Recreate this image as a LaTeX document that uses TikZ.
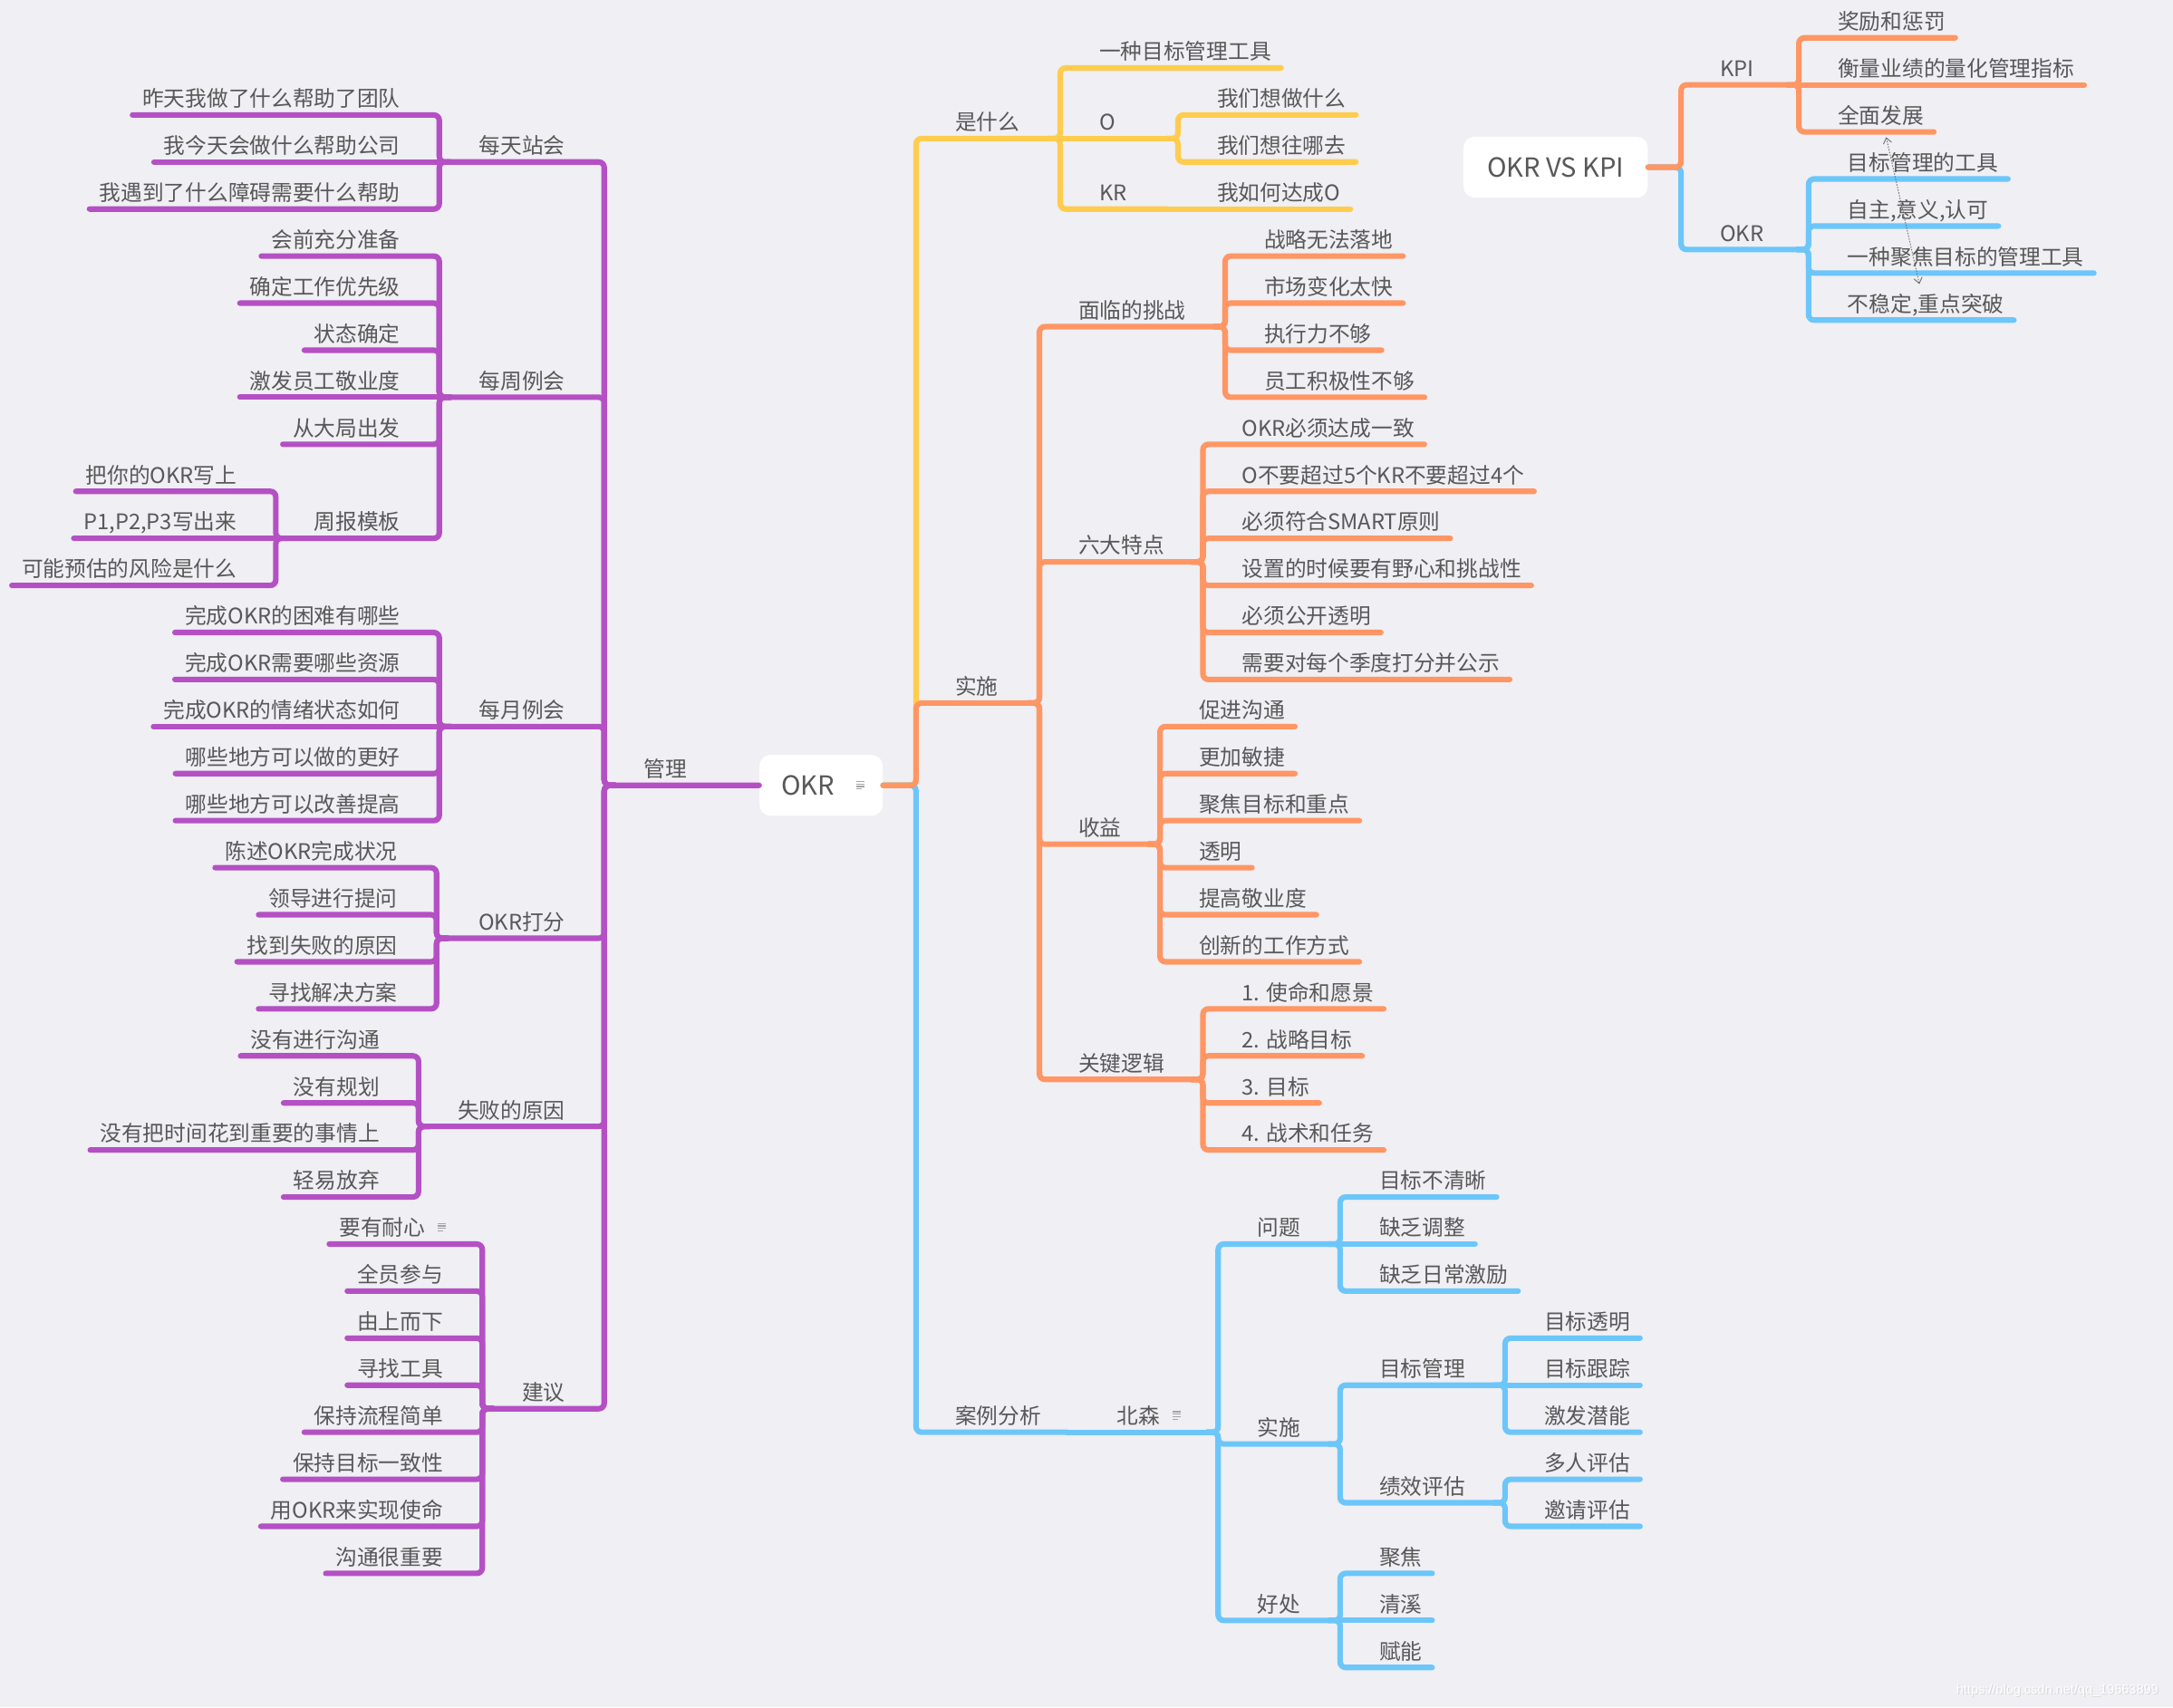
\documentclass[tikz,border=0pt]{standalone}
\usepackage{fontspec}
\setmainfont{Noto Sans CJK SC}
\newfontfamily\wmfamily{Liberation Sans}
\usetikzlibrary{calc,arrows.meta}
\definecolor{mmbg}{RGB}{239,239,244}
\definecolor{mmtxt}{RGB}{88,88,88}
\definecolor{mmpur}{RGB}{180,80,196}
\definecolor{mmora}{RGB}{255,150,100}
\definecolor{mmyel}{RGB}{255,204,77}
\definecolor{mmblu}{RGB}{108,198,250}
\definecolor{mmicon}{RGB}{165,165,165}
\definecolor{mmrel}{RGB}{110,110,110}
\newcommand\mmfont{\fontsize{15.5}{18}\selectfont}
\newcommand\mmrootfont{\fontsize{19}{22}\selectfont}
\def\RB{49}
% connector: [flag i = inline] color, from, trunk x, to   (uses \yy)
\newcommand\mmlink[5]{\if#1i\draw[br,#2] (#3) -- (#5);\else\draw[br,#2] (#3) -| (#4,\yy) -- (#5);\fi}
% right intermediate: [flag] color parent trunk name row nexttrunk text
\newcommand\rmid[8][n]{%
  \pgfmathsetmacro\yy{\RB+33.95*(#6)}%
  \node[lbl,anchor=base west] (#5) at (#4+28,\yy-6) {#8};
  \coordinate (#5-e) at (#7-8,\yy);
  \mmlink{#1}{#2}{#3}{#4}{#5-e}}
% right leaf: [flag] color parent trunk name row text
\newcommand\rleaf[7][n]{%
  \pgfmathsetmacro\yy{\RB+33.95*(#6)}%
  \node[lbl,anchor=base west] (#5) at (#4+28,\yy-6) {#7};
  \coordinate (#5-e) at ($(#5.base east)+(7,6)$);
  \mmlink{#1}{#2}{#3}{#4}{#5-e}}
% left intermediate
\newcommand\lmid[8][n]{%
  \pgfmathsetmacro\yy{\RB+33.95*(#6)}%
  \node[lbl,anchor=base east] (#5) at (#4-28,\yy-6) {#8};
  \coordinate (#5-e) at (#7+8,\yy);
  \mmlink{#1}{#2}{#3}{#4}{#5-e}}
% left leaf
\newcommand\lleaf[7][n]{%
  \pgfmathsetmacro\yy{\RB+33.95*(#6)}%
  \node[lbl,anchor=base east] (#5) at (#4-28,\yy-6) {#7};
  \coordinate (#5-e) at ($(#5.base west)+(-7,6)$);
  \mmlink{#1}{#2}{#3}{#4}{#5-e}}
\tikzset{
  br/.style={line width=4pt, line cap=round, rounded corners=4pt},
  lbl/.style={font=\mmfont, text=mmtxt, inner sep=0pt},
  rootbox/.style={fill=white, rounded corners=8pt, minimum width=89pt, minimum height=44pt,
    font=\mmrootfont, text=mmtxt, inner sep=0pt},
  relarrow/.style={draw=mmrel, line width=0.6pt, dash pattern=on 1pt off 1pt,
    {Straight Barb[length=4pt,width=6pt]}-{Straight Barb[length=4pt,width=6pt]}},
  noteicon/.pic={
    \fill[mmicon] (-3,-3.2) rectangle (3,-2.4);
    \fill[mmicon] (-3,-1.4) rectangle (3,-0.6);
    \fill[mmicon] (-3,0.4) rectangle (3,1.2);
    \fill[mmicon] (-3,2.2) rectangle (1,3.0);
  }
}
\begin{document}
\begin{tikzpicture}[x=1pt,y=-1pt]
\fill[mmbg] (0,0) rectangle (1568,1232);
\useasboundingbox (0,0) rectangle (1568,1232);

% ---------- central OKR ----------
\node[rootbox] (okr) at (592.5,566.74) {OKR\rule{19pt}{0pt}};
\pic (okricon) at (621,566.74) {noteicon};
\coordinate (okr-r) at (okr.east);
\coordinate (okr-l) at (okr.west);

% ---------- yellow: 是什么 ----------
\rmid{mmyel}{okr-r}{661}{sxm}{1.5}{765}{是什么}
\rleaf{mmyel}{sxm-e}{765}{y1}{0}{一种目标管理工具}
\rmid[i]{mmyel}{sxm-e}{765}{yo}{1.5}{850}{O}
\rleaf{mmyel}{yo-e}{850}{y2}{1}{我们想做什么}
\rleaf{mmyel}{yo-e}{850}{y3}{2}{我们想往哪去}
\rmid{mmyel}{sxm-e}{765}{ykr}{3}{850}{KR}
\rleaf[i]{mmyel}{ykr-e}{850}{y4}{3}{我如何达成O}

% ---------- blue: 案例分析 ----------
\rmid{mmblu}{okr-r}{661}{al}{29}{778}{案例分析}
\rmid[i]{mmblu}{al-e}{778}{bs}{29}{879}{北森}
\pic (bsicon) at (849,1021.5) {noteicon};
\rmid{mmblu}{bs-e}{879}{wt}{25}{967}{问题}
\rleaf{mmblu}{wt-e}{967}{w1}{24}{目标不清晰}
\rleaf[i]{mmblu}{wt-e}{967}{w2}{25}{缺乏调整}
\rleaf{mmblu}{wt-e}{967}{w3}{26}{缺乏日常激励}
\rmid{mmblu}{bs-e}{879}{cs}{29.25}{967}{实施}
\rmid{mmblu}{cs-e}{967}{mb}{28}{1086}{目标管理}
\rleaf{mmblu}{mb-e}{1086}{mb1}{27}{目标透明}
\rleaf[i]{mmblu}{mb-e}{1086}{mb2}{28}{目标跟踪}
\rleaf{mmblu}{mb-e}{1086}{mb3}{29}{激发潜能}
\rmid{mmblu}{cs-e}{967}{jx}{30.5}{1086}{绩效评估}
\rleaf{mmblu}{jx-e}{1086}{jx1}{30}{多人评估}
\rleaf{mmblu}{jx-e}{1086}{jx2}{31}{邀请评估}
\rmid{mmblu}{bs-e}{879}{hc}{33}{967}{好处}
\rleaf{mmblu}{hc-e}{967}{h1}{32}{聚焦}
\rleaf[i]{mmblu}{hc-e}{967}{h2}{33}{清溪}
\rleaf{mmblu}{hc-e}{967}{h3}{34}{赋能}

% ---------- orange: 实施 ----------
\rmid{mmora}{okr-r}{661}{ss}{13.5}{750}{实施}
\rmid{mmora}{ss-e}{750}{mlt}{5.5}{884}{面临的挑战}
\rleaf{mmora}{mlt-e}{884}{m1}{4}{战略无法落地}
\rleaf{mmora}{mlt-e}{884}{m2}{5}{市场变化太快}
\rleaf{mmora}{mlt-e}{884}{m3}{6}{执行力不够}
\rleaf{mmora}{mlt-e}{884}{m4}{7}{员工积极性不够}
\rmid{mmora}{ss-e}{750}{ld}{10.5}{868}{六大特点}
\rleaf{mmora}{ld-e}{868}{l1}{8}{OKR必须达成一致}
\rleaf{mmora}{ld-e}{868}{l2}{9}{O不要超过5个KR不要超过4个}
\rleaf{mmora}{ld-e}{868}{l3}{10}{必须符合SMART原则}
\rleaf{mmora}{ld-e}{868}{l4}{11}{设置的时候要有野心和挑战性}
\rleaf{mmora}{ld-e}{868}{l5}{12}{必须公开透明}
\rleaf{mmora}{ld-e}{868}{l6}{13}{需要对每个季度打分并公示}
\rmid{mmora}{ss-e}{750}{sy}{16.5}{837}{收益}
\rleaf{mmora}{sy-e}{837}{s1}{14}{促进沟通}
\rleaf{mmora}{sy-e}{837}{s2}{15}{更加敏捷}
\rleaf{mmora}{sy-e}{837}{s3}{16}{聚焦目标和重点}
\rleaf{mmora}{sy-e}{837}{s4}{17}{透明}
\rleaf{mmora}{sy-e}{837}{s5}{18}{提高敬业度}
\rleaf{mmora}{sy-e}{837}{s6}{19}{创新的工作方式}
\rmid{mmora}{ss-e}{750}{gj}{21.5}{868}{关键逻辑}
\rleaf{mmora}{gj-e}{868}{g1}{20}{1. 使命和愿景}
\rleaf{mmora}{gj-e}{868}{g2}{21}{2. 战略目标}
\rleaf{mmora}{gj-e}{868}{g3}{22}{3. 目标}
\rleaf{mmora}{gj-e}{868}{g4}{23}{4. 战术和任务}

% ---------- purple: 管理 ----------
\lmid[i]{mmpur}{okr-l}{524}{gl}{15.25}{436}{管理}
\lmid{mmpur}{gl-e}{436}{mt}{2}{317}{每天站会}
\lleaf{mmpur}{mt-e}{317}{a1}{1}{昨天我做了什么帮助了团队}
\lleaf[i]{mmpur}{mt-e}{317}{a2}{2}{我今天会做什么帮助公司}
\lleaf{mmpur}{mt-e}{317}{a3}{3}{我遇到了什么障碍需要什么帮助}
\lmid{mmpur}{gl-e}{436}{mz}{7}{317}{每周例会}
\lleaf{mmpur}{mz-e}{317}{b1}{4}{会前充分准备}
\lleaf{mmpur}{mz-e}{317}{b2}{5}{确定工作优先级}
\lleaf{mmpur}{mz-e}{317}{b3}{6}{状态确定}
\lleaf[i]{mmpur}{mz-e}{317}{b4}{7}{激发员工敬业度}
\lleaf{mmpur}{mz-e}{317}{b5}{8}{从大局出发}
\lmid{mmpur}{mz-e}{317}{zb}{10}{199}{周报模板}
\lleaf{mmpur}{zb-e}{199}{c1}{9}{把你的OKR写上}
\lleaf[i]{mmpur}{zb-e}{199}{c2}{10}{P1,P2,P3写出来}
\lleaf{mmpur}{zb-e}{199}{c3}{11}{可能预估的风险是什么}
\lmid{mmpur}{gl-e}{436}{my}{14}{317}{每月例会}
\lleaf{mmpur}{my-e}{317}{e1}{12}{完成OKR的困难有哪些}
\lleaf{mmpur}{my-e}{317}{e2}{13}{完成OKR需要哪些资源}
\lleaf[i]{mmpur}{my-e}{317}{e3}{14}{完成OKR的情绪状态如何}
\lleaf{mmpur}{my-e}{317}{e4}{15}{哪些地方可以做的更好}
\lleaf{mmpur}{my-e}{317}{e5}{16}{哪些地方可以改善提高}
\lmid{mmpur}{gl-e}{436}{df}{18.5}{315}{OKR打分}
\lleaf{mmpur}{df-e}{315}{f1}{17}{陈述OKR完成状况}
\lleaf{mmpur}{df-e}{315}{f2}{18}{领导进行提问}
\lleaf{mmpur}{df-e}{315}{f3}{19}{找到失败的原因}
\lleaf{mmpur}{df-e}{315}{f4}{20}{寻找解决方案}
\lmid{mmpur}{gl-e}{436}{sb}{22.5}{302}{失败的原因}
\lleaf{mmpur}{sb-e}{302}{h1l}{21}{没有进行沟通}
\lleaf{mmpur}{sb-e}{302}{h2l}{22}{没有规划}
\lleaf{mmpur}{sb-e}{302}{h3l}{23}{没有把时间花到重要的事情上}
\lleaf{mmpur}{sb-e}{302}{h4l}{24}{轻易放弃}
\lmid{mmpur}{gl-e}{436}{jy}{28.5}{348}{建议}
\lleaf{mmpur}{jy-e}{348}{d1}{25}{要有耐心\rule{13pt}{0pt}}
\pic (nxicon) at (319,885.7) {noteicon};
\lleaf{mmpur}{jy-e}{348}{d2}{26}{全员参与}
\lleaf{mmpur}{jy-e}{348}{d3}{27}{由上而下}
\lleaf{mmpur}{jy-e}{348}{d4}{28}{寻找工具}
\lleaf{mmpur}{jy-e}{348}{d5}{29}{保持流程简单}
\lleaf{mmpur}{jy-e}{348}{d6}{30}{保持目标一致性}
\lleaf{mmpur}{jy-e}{348}{d7}{31}{用OKR来实现使命}
\lleaf{mmpur}{jy-e}{348}{d8}{32}{沟通很重要}

% ---------- OKR VS KPI ----------
\def\RB{27.3}
\node[rootbox, minimum width=133pt] (kv) at (1122.5,120.66) {OKR VS KPI};
\coordinate (kv-r) at (kv.east);
\rmid{mmblu}{kv-r}{1213}{okr2}{4.5}{1305}{OKR}
\rleaf{mmblu}{okr2-e}{1305}{o1}{3}{目标管理的工具}
\rleaf{mmblu}{okr2-e}{1305}{o2}{4}{自主,意义,认可}
\rleaf{mmblu}{okr2-e}{1305}{o3}{5}{一种聚焦目标的管理工具}
\rleaf{mmblu}{okr2-e}{1305}{o4}{6}{不稳定,重点突破}
\rmid{mmora}{kv-r}{1213}{kpi}{1}{1298}{KPI}
\rleaf{mmora}{kpi-e}{1298}{k1}{0}{奖励和惩罚}
\rleaf[i]{mmora}{kpi-e}{1298}{k2}{1}{衡量业绩的量化管理指标}
\rleaf{mmora}{kpi-e}{1298}{k3}{2}{全面发展}
\coordinate (rela) at (1361,99);
\coordinate (relb) at (1385,205);
\draw[relarrow] (rela) -- (relb);

% ---------- watermark ----------
\node[font=\wmfamily\fontsize{9.5}{11}\selectfont, text=black!15, inner sep=0pt] (wmshadow) at (1485.3,1220.6) {https://blog.csdn.net/qq\_19663899};
\node[font=\wmfamily\fontsize{9.5}{11}\selectfont, text=white, inner sep=0pt] (wm) at (1484.5,1220) {https://blog.csdn.net/qq\_19663899};
\end{tikzpicture}
\end{document}
